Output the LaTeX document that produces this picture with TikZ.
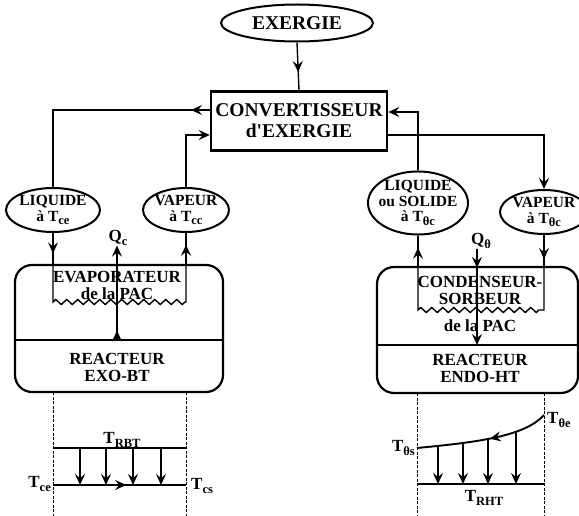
\documentclass[tikz,border=0pt]{standalone}
\usepackage{fontspec}
\setmainfont{Liberation Serif}
\usetikzlibrary{shapes.geometric, arrows.meta, decorations.pathmorphing, decorations.markings}
\newcommand{\ctr}[1]{\makebox[0pt]{#1}}
\newcommand{\ind}[1]{\raisebox{-0.45ex}{\fontsize{12.5}{12.5}\selectfont #1}}
\tikzset{
  etat/.style={ellipse, draw, line width=2pt, inner sep=0pt, align=center,
    font=\bfseries\fontsize{15.5}{15.5}\selectfont},
  conv/.style={rectangle, draw, line width=2.6pt, align=center,
    font=\bfseries\fontsize{19.5}{21}\selectfont},
  reac/.style={rectangle, draw, line width=2.2pt, rounded corners=17pt, inner sep=0pt},
  txt/.style={inner sep=0pt, align=center, font=\bfseries\fontsize{17}{17}\selectfont},
  ligne/.style={line width=1.4pt},
  fleche/.style={-{Stealth[length=11pt, width=10pt, inset=4pt]}, line width=1.4pt},
  fl/.style={postaction={decorate}, decoration={markings,
    mark=at position #1 with {\arrow{Stealth[length=11pt, width=10pt, inset=4pt]}}}},
  coil/.style={decoration={zigzag, segment length=11pt, amplitude=2.5pt}},
  limite/.style={dash pattern=on 3pt off 1.5pt, line width=0.9pt}
}

\begin{document}
\begin{tikzpicture}[x=1pt, y=-1pt]
  \useasboundingbox (0,0) rectangle (579,516);

  % Exergie et convertisseur
  \node[etat, minimum width=152, minimum height=37, font=\bfseries\fontsize{19.5}{19}\selectfont] (exergie) at (297,23) {EXERGIE};
  \node[conv, minimum width=176, minimum height=59] (conv) at (299,121) {CONVERTISSEUR\\d\textquotesingle EXERGIE};
  \draw[ligne, fl=0.62] (exergie.south) -- (conv.north);

  % Etats du fluide
  \node[etat, minimum width=94, minimum height=44] (liqg) at (53,210) {\ctr{LIQUIDE}\\\ctr{à T\ind{ce}}};
  \node[etat, minimum width=86, minimum height=44] (vapg) at (186,210) {\ctr{VAPEUR}\\\ctr{à T\ind{cc}}};
  \node[etat, minimum width=100, minimum height=60] (liqd) at (418,203) {\ctr{LIQUIDE}\\\ctr{ou SOLIDE}\\\ctr{à T\ind{θc}}};
  \node[etat, minimum width=88, minimum height=44] (vapd) at (544,212) {\ctr{VAPEUR}\\\ctr{à T\ind{θc}}};

  % Liaisons au convertisseur
  \draw[ligne, fl=0.08] (conv.west |- 0,110) -| (liqg.north);
  \draw[fleche] (vapg.north) |- (conv.west |- 0,135);
  \draw[fleche] (liqd.north) |- (conv.east |- 0,112);
  \draw[fleche] (conv.east |- 0,135) -| (vapd.north);

  % Reacteurs
  \node[reac, minimum width=208, minimum height=127] (reacg) at (119,328.5) {};
  \node[reac, minimum width=201, minimum height=126] (reacd) at (477.5,330) {};
  \draw[line width=1.6pt] (reacg.west |- 0,340) -- (reacg.east |- 0,340);
  \draw[line width=1.6pt] (reacd.west |- 0,345) -- (reacd.east |- 0,345);

  % Serpentin evaporateur
  \coordinate (ge) at (53,302);
  \coordinate (gs) at (186,302);
  \draw[ligne, fl=0.66] (liqg.south) -- (liqg.south |- reacg.north);
  \draw[ligne] (liqg.south |- reacg.north) -- (ge) decorate[coil]{-- (gs)} -- (gs |- reacg.north);
  \draw[ligne, fl=0.62] (gs |- reacg.north) -- (vapg.south);
  \node[txt] (evap) at (117,285) {EVAPORATEUR\\de la PAC};
  \node[txt] (exo) at (117,367) {REACTEUR\\EXO-BT};
  \node[txt] (qc) at (118,238) {Q\ind{c}};
  \coordinate (qcb) at (117,340);
  \draw[fleche, fl=0.1] (qcb) -- (qcb |- qc.south);

  % Serpentin condenseur
  \coordinate (de) at (418,310);
  \coordinate (ds) at (544,310);
  \draw[ligne, fl=0.6] (liqd.south |- reacd.north) -- (liqd.south);
  \draw[ligne, fl=0.78] (vapd.south) -- (ds |- reacd.north);
  \draw[ligne] (liqd.south |- reacd.north) -- (de) decorate[coil]{-- (ds)} -- (ds |- reacd.north);
  \node[txt] (cond) at (480,290) {CONDENSEUR-\\SORBEUR};
  \node[txt] (pac) at (480,326) {de la PAC};
  \node[txt] (endo) at (480,368) {REACTEUR\\ENDO-HT};
  \node[txt] (qt) at (481,241) {Q\ind{θ}};
  \coordinate (qtb) at (477,345);
  \draw[fleche, fl=0.2] (qtb |- qt.south) -- (qtb);

  % Echange cote BT
  \draw[limite] (53,392) -- (53,516);
  \draw[limite] (186,392) -- (186,516);
  \node[txt] (trbt) at (122,440) {T\ind{RBT}};
  \coordinate (hg) at (53,448);
  \coordinate (hd) at (186,448);
  \coordinate (bg) at (53,485);
  \coordinate (bd) at (186,485);
  \draw[line width=1.9pt] (hg) -- (hd);
  \draw[line width=1.9pt, fl=0.55] (bg) -- (bd);
  \foreach \x in {80,106,133,161}
    \draw[fleche] (\x,448) -- (\x,485);
  \node[txt, anchor=east] (tce) at (51,484) {T\ind{ce}};
  \node[txt, anchor=west] (tcs) at (191,486) {T\ind{cs}};

  % Echange cote HT
  \draw[limite] (417,393) -- (417,516);
  \draw[limite] (544,393) -- (544,516);
  \coordinate (ce) at (544,415);
  \coordinate (cs) at (417,448);
  \draw[line width=1.9pt, fl=0.45] (ce) .. controls (525,436) and (480,442) .. (cs);
  \draw[line width=1.9pt] (417,484) -- (544,484);
  \foreach \x/\y in {438/446, 463/443, 488/439, 516/431}
    \draw[fleche] (\x,\y) -- (\x,484);
  \node[txt, anchor=west] (tte) at (547,420) {T\ind{θe}};
  \node[txt, anchor=east] (tts) at (415,448) {T\ind{θs}};
  \node[txt] (trht) at (484,498) {T\ind{RHT}};
\end{tikzpicture}
\end{document}
